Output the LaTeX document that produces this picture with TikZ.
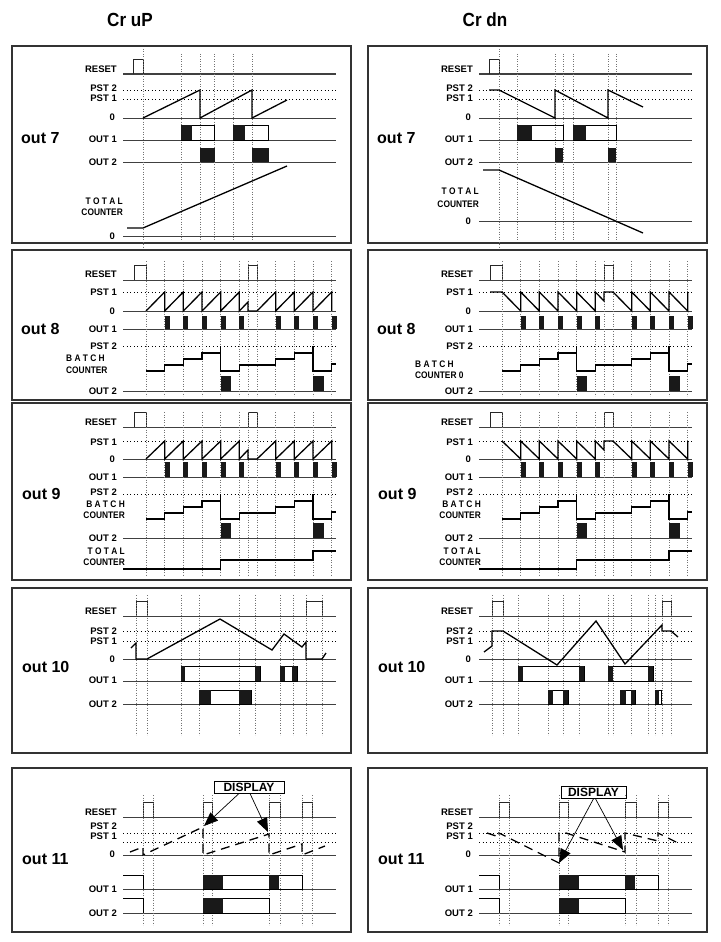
\documentclass[tikz,border=0pt]{standalone}
\usepackage{graphicx}
\usepackage{fontspec}
\setmainfont{Liberation Sans}
\usetikzlibrary{arrows.meta}
\newcommand\lf{\bfseries\fontsize{9.5}{10}\selectfont}
\newcommand\hax[1]{\draw[ax] (123,#1) -- (336,#1);}
\newcommand\hdt[1]{\draw[hd] (123,#1) -- (336,#1);}
\newcommand\rpls[4]{\draw[pl] (#1,#3) -- (#1,#4) -- (#2,#4) -- (#2,#3);}
\newcommand\bk[4]{\fill[blk] (#1,#4) rectangle (#2,#3);}
\newcommand\wb[4]{\draw[box] (#1,#4) rectangle (#2,#3);}
\newcommand\sq[1]{\scalebox{0.88}[1]{#1}}
% ---------- panel 1 common ----------
\newcommand\PanA[1]{%
 \draw[frame] (12,46) rectangle (351,243);
 \node[outl] (#1o7) at (21,138) {out 7};
 \node[lb] (#1ra) at (117,69) {RESET};
 \node[lb] (#1pa) at (117,88.5) {PST 2};
 \node[lb] (#1pb) at (117,98.5) {PST 1};
 \node[lb] (#1za) at (115,117.5) {0};
 \node[lb] (#1oa) at (117,139.5) {OUT 1};
 \node[lb] (#1ob) at (117,162) {OUT 2};
 \hax{74}\hdt{90}\hdt{99}\hax{118}\hax{140}\hax{162}
 \rpls{133}{143}{74}{59}
 \draw[vd] (143,49) -- (143,249);
}
% ---------- panel 2 common ----------
\newcommand\PanB[1]{%
 \draw[frame] (12,250) rectangle (351,400);
 \node[outl] (#1o8) at (21,329) {out 8};
 \node[lb] (#1rb) at (117,274) {RESET};
 \node[lb] (#1pc) at (117,292.5) {PST 1};
 \node[lb] (#1zb) at (115,311) {0};
 \node[lb] (#1oc) at (117,329) {OUT 1};
 \node[lb] (#1pd) at (117,346) {PST 2};
 \node[lb] (#1od) at (117,391) {OUT 2};
 \hax{280}\hdt{292}\hax{311}\hax{329}\hdt{346}\hax{391}
 \rpls{134}{146}{280}{265}\rpls{248}{257}{280}{265}
 \foreach \x in {146,164.7,183.3,202,220.7,239.3,248,257,275.7,294.3,313,331.7} \draw[vd] (\x,261) -- (\x,396);
 \foreach \x in {164.7,183.3,202,220.7,239.3,275.7,294.3,313,331.7} \fill[blk] (\x,316) rectangle ({\x+4.8},329);
 \draw[sig] (146,371) -- (164.7,371) -- (164.7,365) -- (183.3,365) -- (183.3,359) -- (202,359) -- (202,353) -- (220.7,353) -- (220.7,346) -- (220.7,371) -- (239.3,371) -- (239.3,365) -- (275.7,365) -- (275.7,359) -- (294.3,359) -- (294.3,353) -- (313,353) -- (313,346) -- (313,371) -- (331.7,371) -- (331.7,364) -- (336,364);
 \bk{220.7}{231}{391}{376}\bk{313}{323.5}{391}{376}
}
% ---------- panel 3 common ----------
\newcommand\PanC[1]{%
 \draw[frame] (12,403) rectangle (351,580);
 \node[outl] (#1o9) at (22,494) {out 9};
 \node[lb] (#1rc) at (117,422) {RESET};
 \node[lb] (#1pe) at (117,442) {PST 1};
 \node[lb] (#1zc) at (115,459) {0};
 \node[lb] (#1oe) at (117,477) {OUT 1};
 \node[lb] (#1pf) at (117,492.5) {PST 2};
 \node[lb] (#1ba) at (125,504) {\sq{B A T C H}};
 \node[lb] (#1bc) at (125,515.5) {\sq{COUNTER}};
 \node[lb] (#1of) at (117,538) {OUT 2};
 \node[lb] (#1ta) at (125,551) {\sq{T O T A L}};
 \node[lb] (#1tc) at (125,562.5) {\sq{COUNTER}};
 \hax{427}\hdt{441}\hax{459}\hax{477}\hdt{494}\hax{538}
 \rpls{134}{146}{427}{412}\rpls{248}{257}{427}{412}
 \foreach \x in {146,164.7,183.3,202,220.7,239.3,248,257,275.7,294.3,313,331.7} \draw[vd] (\x,412) -- (\x,575);
 \foreach \x in {164.7,183.3,202,220.7,239.3,275.7,294.3,313,331.7} \fill[blk] (\x,462) rectangle ({\x+4.8},477);
 \draw[sig] (146,519) -- (164.7,519) -- (164.7,513) -- (183.3,513) -- (183.3,507) -- (202,507) -- (202,501) -- (220.7,501) -- (220.7,494) -- (220.7,519) -- (239.3,519) -- (239.3,513) -- (275.7,513) -- (275.7,507) -- (294.3,507) -- (294.3,501) -- (313,501) -- (313,494) -- (313,519) -- (331.7,519) -- (331.7,512) -- (336,512);
 \bk{220.7}{231}{538}{523}\bk{313}{323.5}{538}{523}
 \draw[sig] (123,569) -- (220.7,569) -- (220.7,560) -- (313,560) -- (313,551) -- (336,551);
}
% ---------- panel 4 common ----------
\newcommand\PanD[1]{%
 \draw[frame] (12,588) rectangle (351,753);
 \node[outl] (#1o10) at (22,667) {out 10};
 \node[lb] (#1rd) at (117,611) {RESET};
 \node[lb] (#1pg) at (117,631.5) {PST 2};
 \node[lb] (#1ph) at (117,641.5) {PST 1};
 \node[lb] (#1zd) at (115,659) {0};
 \node[lb] (#1og) at (117,680.5) {OUT 1};
 \node[lb] (#1oh) at (117,704) {OUT 2};
 \hax{616}\hdt{631}\hdt{641}\hax{659}\hax{681}\hax{704}
}
% ---------- panel 5 common ----------
\newcommand\PanE[1]{%
 \draw[frame] (12,768) rectangle (351,932);
 \node[outl] (#1o11) at (22,859) {out 11};
 \node[lb] (#1re) at (117,812) {RESET};
 \node[lb] (#1pi) at (117,826) {PST 2};
 \node[lb] (#1pj) at (117,836) {PST 1};
 \node[lb] (#1ze) at (115,854.5) {0};
 \node[lb] (#1oi) at (117,889) {OUT 1};
 \node[lb] (#1oj) at (117,913) {OUT 2};
 \hax{817}\hdt{833}\hdt{842}\hax{855}\hax{889}\hax{913}
 \rpls{143}{153}{817}{802}\rpls{203}{212}{817}{802}\rpls{269}{280}{817}{802}\rpls{302}{312}{817}{802}
 \foreach \x in {143,153,203,212,269,280,302,312} \draw[vd] (\x,795) -- (\x,925);
 \draw[box] (123,875) -- (143,875) -- (143,889);
 \wb{203}{302}{889}{875}\bk{203}{223}{889}{875}\bk{269}{279}{889}{875}
 \draw[box] (123,898) -- (143,898) -- (143,913);
 \wb{203}{269}{913}{898}\bk{203}{223}{913}{898}
}
\begin{document}
\begin{tikzpicture}[x=1pt,y=-1pt,
 frame/.style={draw=black!80, line width=1.4pt},
 ax/.style={draw=black!75, line width=1pt},
 sig/.style={draw=black, line width=1.3pt, line join=miter},
 dsig/.style={draw=black, line width=1.3pt, dash pattern=on 9pt off 6pt},
 pl/.style={draw=black!85, line width=0.9pt},
 vd/.style={draw=black!55, line width=0.6pt, dash pattern=on 0.8pt off 1.7pt},
 hd/.style={draw=black, line width=0.8pt, dash pattern=on 1pt off 2.6pt},
 lb/.style={font=\lf, anchor=east, inner sep=0pt},
 lbw/.style={font=\lf, anchor=west, inner sep=0pt},
 outl/.style={font=\bfseries\fontsize{16}{16}\selectfont, anchor=west, inner sep=0pt},
 blk/.style={fill=black!90},
 box/.style={draw=black, line width=1pt},
 disp/.style={draw=black, line width=1pt, font=\bfseries\fontsize{12}{12}\selectfont, inner sep=0pt, minimum height=12pt},
 arr/.style={draw=black, line width=0.7pt, -{Triangle[length=14pt,width=11pt]}}]
\useasboundingbox (0,0) rectangle (720,942);
\fill[white] (0,0) rectangle (720,942);
\node[font=\bfseries\fontsize{19}{19}\selectfont] (hup) at (130,20) {\scalebox{0.9}[1]{Cr uP}};
\node[font=\bfseries\fontsize{19}{19}\selectfont] (hdn) at (485,20) {\scalebox{0.9}[1]{Cr dn}};
% ================= LEFT COLUMN =================
\PanA{L}
\foreach \x in {181,200,214,233,252} \draw[vd] (\x,54) -- (\x,241);
\draw[sig] (143,118) -- (200,90) -- (200,118) -- (252,90) -- (252,118) -- (287,100);
\wb{181}{214}{140}{125}\bk{181}{192}{140}{125}
\wb{233}{268}{140}{125}\bk{233}{245}{140}{125}
\bk{200}{215}{162}{148}\bk{252}{269}{162}{148}
\node[lb] (Ltta) at (123,201) {\sq{T O T A L}};
\node[lb] (Lttc) at (123,212) {\sq{COUNTER}};
\node[lb] (Ltz) at (115,236.5) {0};
\hax{236}
\draw[sig] (127,228) -- (143,228) -- (287,166);

\PanB{L}
\node[lbw] (Lbba) at (66,358) {\sq{B A T C H}};
\node[lbw] (Lbbc) at (66,370) {\sq{COUNTER}};
\draw[sig] (146,311) -- (164.7,292) -- (164.7,311) -- (183.3,292) -- (183.3,311) -- (202,292) -- (202,311) -- (220.7,292) -- (220.7,311) -- (239.3,292) -- (239.3,311) -- (248,302) -- (248,311) -- (257,311) -- (275.7,292) -- (275.7,311) -- (294.3,292) -- (294.3,311) -- (313,292) -- (313,311) -- (331.7,292) -- (331.7,311);

\PanC{L}
\draw[sig] (146,459) -- (164.7,441) -- (164.7,459) -- (183.3,441) -- (183.3,459) -- (202,441) -- (202,459) -- (220.7,441) -- (220.7,459) -- (239.3,441) -- (239.3,459) -- (248,450) -- (248,459) -- (257,459) -- (275.7,441) -- (275.7,459) -- (294.3,441) -- (294.3,459) -- (313,441) -- (313,459) -- (331.7,441) -- (331.7,459);

\PanD{L}
\rpls{136}{147}{616}{601}\rpls{306}{322}{616}{601}
\foreach \x in {136,147,181,199,239,255,280,293,306,322} \draw[vd] (\x,595) -- (\x,735);
\draw[sig] (131,648) -- (136,643) -- (136,659) -- (147,659) -- (220,619) -- (272,650) -- (284,634) -- (302,647) -- (306,642) -- (306,659) -- (322,659) -- (326,653);
\wb{181}{260}{681}{666}\bk{181}{185}{681}{666}\bk{255}{260}{681}{666}
\wb{280}{297}{681}{666}\bk{280}{285}{681}{666}\bk{292}{297}{681}{666}
\wb{199}{251}{704}{690}\bk{199}{211}{704}{690}\bk{239}{251}{704}{690}

\PanE{L}
\draw[dsig] (130,852) -- (143,847) -- (143,855) -- (203,827) -- (203,855) -- (269,834) -- (269,855) -- (302,844) -- (302,855) -- (325,846);
\node[disp, minimum width=70pt] (Ldisp) at (249,787) {DISPLAY};
\coordinate (La1) at (204,826);
\coordinate (La2) at (268,832);
\draw[arr] ([xshift=-10pt]Ldisp.south) -- (La1);
\draw[arr] ([xshift=1pt]Ldisp.south) -- (La2);

% ================= RIGHT COLUMN =================
\begin{scope}[xshift=356pt]
\PanA{R}
\foreach \x in {161,199,207,217,252,260} \draw[vd] (\x,54) -- (\x,241);
\draw[sig] (133,90) -- (143,90) -- (199,118) -- (199,90) -- (252,118) -- (252,90) -- (287,107);
\wb{161}{207}{140}{125}\bk{161}{176}{140}{125}
\wb{217}{260}{140}{125}\bk{217}{230}{140}{125}
\bk{199}{207}{162}{148}\bk{252}{260}{162}{148}
\node[lb] (Rtta) at (123,191) {\sq{T O T A L}};
\node[lb] (Rttc) at (123,204) {\sq{COUNTER}};
\node[lb] (Rtz) at (115,221) {0};
\hax{221}
\draw[sig] (127,170) -- (143,170) -- (287,233);

\PanB{R}
\node[lbw] (Rbba) at (59,364) {\sq{B A T C H}};
\node[lbw] (Rbbc) at (59,375.5) {\sq{COUNTER 0}};
\draw[sig] (134,292) -- (146,292) -- (164.7,311) -- (164.7,292) -- (183.3,311) -- (183.3,292) -- (202,311) -- (202,292) -- (220.7,311) -- (220.7,292) -- (239.3,311) -- (239.3,292) -- (248,301) -- (248,292) -- (257,292) -- (275.7,311) -- (275.7,292) -- (294.3,311) -- (294.3,292) -- (313,311) -- (313,292) -- (331.7,311) -- (331.7,292);

\PanC{R}
\draw[sig] (146,441) -- (164.7,459) -- (164.7,441) -- (183.3,459) -- (183.3,441) -- (202,459) -- (202,441) -- (220.7,459) -- (220.7,441) -- (239.3,459) -- (239.3,441) -- (248,450) -- (248,441) -- (257,441) -- (275.7,459) -- (275.7,441) -- (294.3,459) -- (294.3,441) -- (313,459) -- (313,441) -- (331.7,459) -- (331.7,441);

\PanD{R}
\rpls{136}{147}{616}{601}\rpls{306}{315}{616}{601}
\foreach \x in {136,147,162,192,207,223,252,257,275,292,299,306,315} \draw[vd] (\x,595) -- (\x,735);
\draw[sig] (128,652) -- (136,646) -- (136,631) -- (147,631) -- (201,665) -- (240,621) -- (269,664) -- (306,625) -- (306,631) -- (315,631) -- (322,637);
\wb{162}{228}{681}{666}\bk{162}{167}{681}{666}\bk{223}{228}{681}{666}
\wb{252}{297}{681}{666}\bk{252}{257}{681}{666}\bk{292}{297}{681}{666}
\wb{192}{212}{704}{690}\bk{192}{197}{704}{690}\bk{207}{212}{704}{690}
\wb{264}{279}{704}{690}\bk{264}{270}{704}{690}\bk{275}{279}{704}{690}
\wb{299}{305}{704}{690}\bk{299}{303}{704}{690}

\PanE{R}
\draw[dsig] (131,833) -- (143,837) -- (143,833) -- (203,863) -- (203,833) -- (210,833) -- (269,852) -- (269,833) -- (302,841) -- (302,833) -- (322,843);
\node[disp, minimum width=65pt, minimum height=11.5pt] (Rdisp) at (237.5,792.5) {DISPLAY};
\coordinate (Ra1) at (203,863);
\coordinate (Ra2) at (267,850);
\draw[arr] ([xshift=0pt]Rdisp.south) -- (Ra1);
\draw[arr] ([xshift=2pt]Rdisp.south) -- (Ra2);
\end{scope}
\end{tikzpicture}
\end{document}
